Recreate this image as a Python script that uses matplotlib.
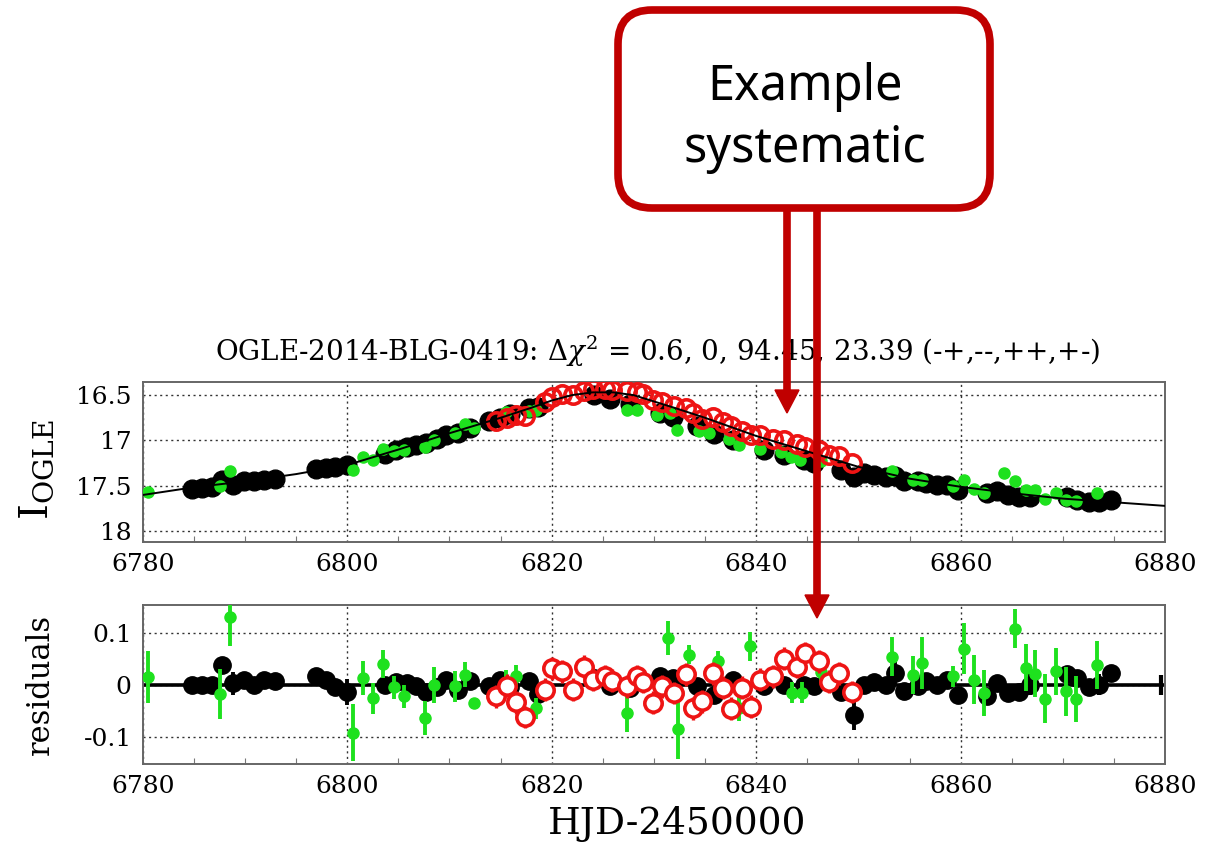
import matplotlib
matplotlib.use("Agg")
import matplotlib.pyplot as plt
from matplotlib.patches import FancyBboxPatch, Polygon

plt.rcParams['font.family'] = ['DejaVu Serif']
plt.rcParams['mathtext.fontset'] = 'dejavuserif'

# ---- OGLE (black) ----
ogle_t = [6784.8, 6785.8, 6786.8, 6787.8, 6788.8, 6789.9, 6790.9, 6791.9, 6792.9,
          6796.9, 6797.9, 6798.8, 6800.0, 6803.7, 6804.8, 6805.8, 6806.7, 6807.7,
          6808.8, 6809.7, 6810.8, 6812.0, 6813.9, 6814.9, 6815.9, 6817.8, 6818.7,
          6824.1, 6825.7, 6827.7, 6830.6, 6831.9, 6834.2, 6835.9, 6837.7, 6840.8,
          6842.7, 6844.7, 6845.7, 6848.3, 6849.6, 6850.5, 6851.5, 6852.7, 6853.6,
          6854.5, 6855.8, 6856.6, 6857.7, 6858.7, 6859.7, 6862.6, 6863.6, 6864.6,
          6865.7, 6866.8, 6870.4, 6871.4, 6872.6, 6873.5, 6874.7]
ogle_mag = [17.53, 17.52, 17.515, 17.44, 17.49, 17.45, 17.45, 17.43, 17.42,
            17.31, 17.30, 17.29, 17.27, 17.15, 17.10, 17.07, 17.05, 17.03,
            16.98, 16.94, 16.92, 16.86, 16.78, 16.75, 16.71, 16.64, 16.63,
            16.50, 16.54, 16.60, 16.70, 16.74, 16.84, 16.93, 16.99, 17.10,
            17.16, 17.22, 17.25, 17.32, 17.40, 17.36, 17.38, 17.40, 17.39,
            17.45, 17.45, 17.47, 17.49, 17.49, 17.54, 17.58, 17.56, 17.60,
            17.62, 17.62, 17.62, 17.65, 17.68, 17.68, 17.66]
ogle_res = [0.0, 0.0, 0.0, 0.038, 0.003, 0.01, 0.0, 0.01, 0.008,
            0.016, 0.01, -0.005, -0.014, 0.0, 0.006, 0.003, -0.003, -0.014,
            -0.005, 0.01, -0.01, 0.008, -0.003, 0.01, -0.005, 0.008, -0.018,
            0.013, -0.003, -0.006, 0.016, 0.013, -0.003, -0.019, 0.01, -0.003,
            0.0, 0.0, -0.003, -0.014, -0.058, 0.0, 0.006, -0.001, 0.022,
            -0.012, -0.003, 0.008, 0.0, 0.01, -0.019, -0.022, 0.003, -0.016,
            -0.014, 0.0, 0.02, 0.013, -0.005, 0.0, 0.022]
ogle_err = [0.01, 0.01, 0.01, 0.012, 0.022, 0.01, 0.01, 0.01, 0.01,
            0.01, 0.01, 0.01, 0.025, 0.01, 0.01, 0.01, 0.01, 0.01,
            0.01, 0.012, 0.01, 0.01, 0.01, 0.01, 0.01, 0.01, 0.01,
            0.01, 0.01, 0.01, 0.01, 0.01, 0.01, 0.01, 0.01, 0.01,
            0.01, 0.01, 0.01, 0.01, 0.03, 0.01, 0.01, 0.01, 0.025,
            0.01, 0.01, 0.01, 0.01, 0.01, 0.01, 0.01, 0.01, 0.01,
            0.01, 0.02, 0.01, 0.01, 0.01, 0.02, 0.01]

# ---- second site (green) ----
grn_t = [6780.5, 6787.6, 6788.5, 6800.6, 6801.5, 6802.5, 6803.5, 6804.6, 6805.6,
         6807.6, 6808.5, 6810.5, 6811.5, 6812.4, 6815.5, 6817.8, 6818.5, 6827.4,
         6828.3, 6830.3, 6831.6, 6832.3, 6834.4, 6835.4, 6837.3, 6838.3, 6840.4,
         6842.4, 6843.4, 6844.3, 6846.3, 6853.3, 6855.3, 6856.2, 6859.3, 6860.3,
         6861.3, 6862.3, 6864.2, 6865.3, 6866.4, 6867.3, 6868.3, 6869.3, 6870.3,
         6871.3, 6873.3]
grn_mag = [17.57, 17.50, 17.34, 17.32, 17.18, 17.21, 17.09, 17.12, 17.10,
           17.07, 16.99, 16.92, 16.82, 16.86, 16.69, 16.68, 16.66, 16.66,
           16.66, 16.72, 16.70, 16.88, 16.90, 16.92, 16.98, 17.05, 17.09,
           17.13, 17.18, 17.21, 17.23, 17.34, 17.43, 17.43, 17.50, 17.44,
           17.53, 17.58, 17.36, 17.45, 17.54, 17.54, 17.64, 17.58, 17.66,
           17.67, 17.58]
grn_rt = [6780.5, 6787.6, 6788.5, 6800.6, 6801.5, 6802.5, 6803.5, 6804.6, 6805.6,
          6807.6, 6808.5, 6810.5, 6811.5, 6812.4, 6815.5, 6816.5, 6818.5, 6827.4,
          6831.4, 6832.4, 6833.4, 6836.3, 6838.3, 6839.4, 6843.5, 6844.5, 6846.3,
          6853.3, 6855.3, 6856.2, 6859.3, 6860.3, 6861.3, 6862.3, 6865.3, 6866.4,
          6867.3, 6868.3, 6869.3, 6870.3, 6871.3, 6873.3]
grn_res = [0.014, -0.018, 0.13, -0.092, 0.013, -0.026, 0.04, -0.005, -0.022,
           -0.064, 0.0, -0.003, 0.019, -0.035, 0.006, 0.016, -0.045, -0.055,
           0.09, -0.085, 0.058, 0.045, -0.045, 0.074, -0.015, -0.015, 0.024,
           0.054, 0.019, 0.042, 0.016, 0.069, 0.01, -0.016, 0.108, 0.033,
           0.021, -0.027, 0.026, -0.013, -0.027, 0.038]
grn_err = [0.05, 0.048, 0.056, 0.055, 0.032, 0.03, 0.027, 0.022, 0.022,
           0.033, 0.035, 0.03, 0.024, 0.01, 0.022, 0.022, 0.02, 0.035,
           0.032, 0.058, 0.018, 0.02, 0.025, 0.028, 0.02, 0.02, 0.02,
           0.037, 0.037, 0.05, 0.02, 0.049, 0.048, 0.045, 0.038, 0.045,
           0.045, 0.047, 0.045, 0.047, 0.044, 0.047]

# ---- third site (red, open) ----
red_t = [6814.6, 6815.6, 6816.5, 6817.4, 6819.3, 6820.0, 6821.0, 6822.1, 6823.2,
         6824.0, 6825.2, 6825.9, 6827.4, 6828.3, 6828.9, 6829.9, 6830.8, 6832.0,
         6833.1, 6833.8, 6834.7, 6835.8, 6836.8, 6837.5, 6838.6, 6839.5, 6840.4,
         6841.6, 6842.7, 6844.0, 6844.8, 6846.1, 6847.1, 6848.1, 6849.4]
red_mag = [16.79, 16.75, 16.72, 16.73, 16.58, 16.52, 16.49, 16.50, 16.45,
           16.43, 16.43, 16.44, 16.46, 16.47, 16.49, 16.55, 16.58, 16.62,
           16.64, 16.70, 16.76, 16.74, 16.80, 16.84, 16.90, 16.94, 16.94,
           16.98, 17.00, 17.04, 17.07, 17.11, 17.16, 17.17, 17.25]
red_res = [-0.022, -0.002, -0.034, -0.062, -0.01, 0.032, 0.026, -0.01, 0.035,
           0.01, 0.016, 0.008, -0.003, 0.016, 0.006, -0.035, -0.003, -0.016,
           0.02, -0.045, -0.032, 0.022, -0.006, -0.046, -0.006, -0.042, 0.01,
           0.016, 0.05, 0.035, 0.061, 0.045, 0.006, 0.022, -0.014]
red_err = [0.022] * len(red_t)

# ---- model curve ----
model_t = [6780, 6785, 6790, 6795, 6800, 6805, 6810, 6815, 6818, 6820, 6822, 6824,
           6826, 6828, 6830, 6832, 6835, 6840, 6845, 6850, 6855, 6860, 6865, 6870,
           6875, 6880]
model_mag = [17.60, 17.515, 17.45, 17.37, 17.27, 17.10, 16.92, 16.75, 16.64, 16.56,
             16.50, 16.47, 16.47, 16.50, 16.57, 16.64, 16.75, 16.95, 17.12, 17.29,
             17.42, 17.51, 17.58, 17.64, 17.68, 17.72]

title = r'OGLE-2014-BLG-0419: $\Delta\chi^2$ = 0.6, 0, 94.45, 23.39 (-+,--,++,+-)'
note = 'Example\nsystematic'

BLACK = 'black'
GREEN = '#1ee11e'
RED = '#ee1414'
DARKRED = '#c00000'

fig = plt.figure(figsize=(12.2, 8.51), dpi=100)
ax1 = fig.add_axes([0.117, 0.3635, 0.838, 0.1875])
ax2 = fig.add_axes([0.117, 0.1019, 0.838, 0.187])

for ax in (ax1, ax2):
    ax.set_xlim(6780, 6880)
    ax.set_xticks([6780, 6800, 6820, 6840, 6860, 6880])
    ax.set_xticks(range(6780, 6881, 5), minor=True)
    ax.grid(True, which='major', color='#333333', linestyle=(0, (1.5, 2.5)), lw=1.0)
    ax.tick_params(which='both', direction='in', top=False, right=False,
                   labelsize=18, pad=8, color='#777777')
    ax.tick_params(which='major', length=0)
    ax.tick_params(which='minor', length=4, width=0.8)
    for s in ax.spines.values():
        s.set_color('#666666')
        s.set_linewidth(1.4)
    ax.set_axisbelow(True)

# top panel
ax1.plot(ogle_t, ogle_mag, 'o', color=BLACK, ms=13.5, zorder=3)
ax1.plot(grn_t, grn_mag, 'o', color=GREEN, ms=8, zorder=4)
ax1.plot(red_t, red_mag, 'o', mfc='none', mec=RED, ms=12.5, mew=2.6, zorder=5)
ax1.plot(model_t, model_mag, '-', color=BLACK, lw=1.4, zorder=6)
ax1.set_ylim(18.114, 16.357)
ax1.set_yticks([16.5, 17, 17.5, 18])
ax1.set_yticklabels(['16.5', '17', '17.5', '18'])
ax1.set_ylabel(r'$\mathrm{I}_{\mathrm{OGLE}}$', fontsize=29)
ax1.yaxis.set_label_coords(-0.085, 0.45)

# residuals panel
ax2.axhline(0, color=BLACK, lw=2.6, zorder=2)
ax2.plot([6879.6], [0], marker='|', color=BLACK, ms=14, mew=3, zorder=2)
ax2.errorbar(ogle_t, ogle_res, yerr=ogle_err, fmt='o', color=BLACK, ms=12.5,
             elinewidth=2.8, capsize=0, zorder=3)
ax2.errorbar(grn_rt, grn_res, yerr=grn_err, fmt='o', color=GREEN, ms=8,
             elinewidth=2.8, capsize=0, zorder=4)
ax2.errorbar(red_t, red_res, yerr=red_err, fmt='o', mfc='white', mec=RED, ecolor=RED,
             ms=12.5, mew=2.6, elinewidth=2.4, capsize=0, zorder=5)
ax2.set_ylim(-0.153, 0.153)
ax2.set_yticks([-0.1, 0, 0.1])
ax2.set_yticklabels(['-0.1', '0', '0.1'])
ax2.set_ylabel('residuals', fontsize=22)
ax2.yaxis.set_label_coords(-0.085, 0.5)
ax2.set_xlabel('HJD-2450000', fontsize=27)
ax2.xaxis.set_label_coords(0.523, -0.265)

fig.text(0.539, 1 - 351 / 851, title, ha='center', va='center', fontsize=20)

# annotation overlay in pixel coordinates
ov = fig.add_axes([0, 0, 1, 1], zorder=20)
ov.set_xlim(0, 1220)
ov.set_ylim(851, 0)
ov.axis('off')
ov.patch.set_alpha(0)
box = FancyBboxPatch((618, 10), 372, 198, boxstyle='round,pad=0,rounding_size=34',
                     fc='white', ec=DARKRED, lw=5.5)
ov.add_patch(box)
ov.text(805, 118, note, ha='center', va='center', fontsize=35,
        family='Noto Sans', linespacing=1.3)
for xa, ytip in [(787, 413), (817, 618)]:
    ov.plot([xa, xa], [210, ytip - 20], color=DARKRED, lw=5.5, solid_capstyle='butt')
    ov.add_patch(Polygon([(xa - 12, ytip - 23), (xa + 12, ytip - 23), (xa, ytip)],
                         closed=True, color=DARKRED))

fig.savefig('out.png', dpi=100)
